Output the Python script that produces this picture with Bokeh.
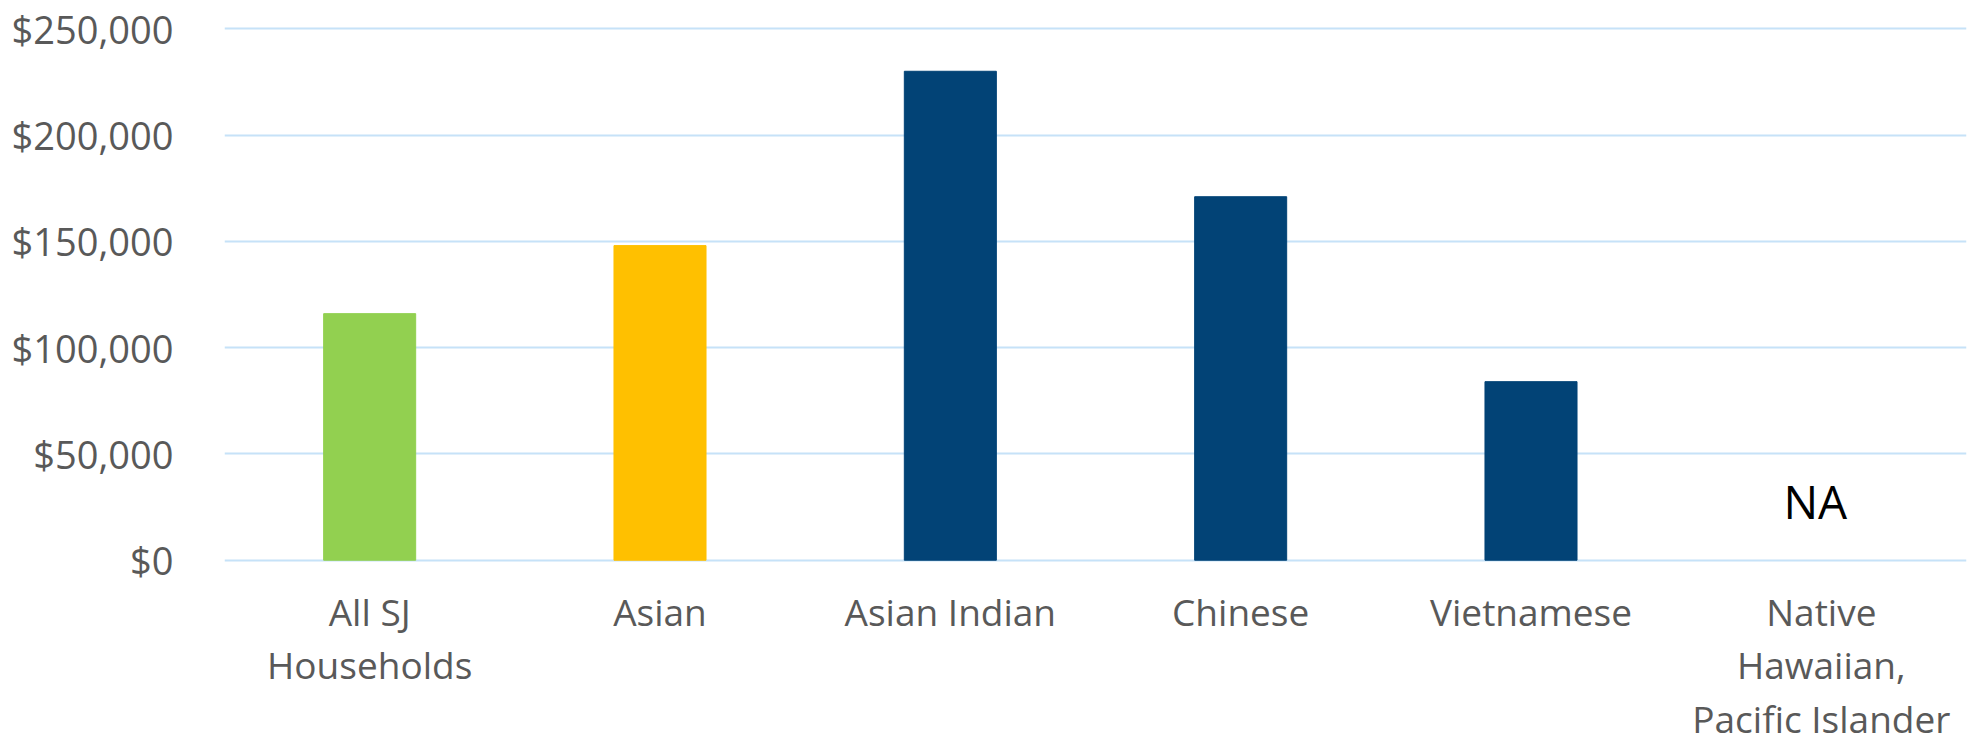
from bokeh.plotting import figure
from bokeh.models import ColumnDataSource, FixedTicker, NumeralTickFormatter, Range1d
from bokeh.core.properties import value
from bokeh.embed import file_html
from bokeh.resources import INLINE

categories = ["All SJ\nHouseholds", "Asian", "Asian Indian", "Chinese", "Vietnamese",
              "Native\nHawaiian,\nPacific Islander"]
incomes = [116000, 148000, 230000, 171000, 84000, None]
colors = ["#92D050", "#FFC000", "#024376", "#024376", "#024376", "#024376"]
y_ticks = [0, 50000, 100000, 150000, 200000, 250000]
na_label = "NA"

bx = [c for c, v in zip(categories, incomes) if v is not None]
bt = [v for v in incomes if v is not None]
bc = [col for col, v in zip(colors, incomes) if v is not None]
src = ColumnDataSource(dict(x=bx, top=bt, color=bc))

p = figure(x_range=categories, y_range=Range1d(-2000, 252000),
           frame_width=1742, frame_height=540,
           min_border_left=224, min_border_right=8, min_border_top=24, min_border_bottom=171,
           output_backend="svg", toolbar_location=None)
p.vbar(x="x", top="top", width=0.317, color="color", source=src)

na_cat = categories[incomes.index(None)]
p.text(x=[na_cat], y=[28000], x_offset=-6, text=[na_label], text_font_size=value("46px"),
       text_font=value("Open Sans"), text_color="#000000", text_align="center",
       text_baseline="alphabetic")

p.outline_line_color = None
p.xgrid.grid_line_color = None
p.ygrid.grid_line_color = "#C6E2F8"
p.ygrid.grid_line_width = 2
p.ygrid.ticker = FixedTicker(ticks=y_ticks)

p.yaxis.ticker = FixedTicker(ticks=y_ticks)
p.yaxis.formatter = NumeralTickFormatter(format="$0,0")
for ax in (p.xaxis[0], p.yaxis[0]):
    ax.axis_line_color = None
    ax.major_tick_line_color = None
    ax.minor_tick_line_color = None
    ax.major_tick_out = 0
    ax.major_tick_in = 0
    ax.major_label_text_font = "Open Sans"
    ax.major_label_text_font_size = "38px"
    ax.major_label_text_color = "#595959"
p.xaxis.major_label_text_font_size = "37px"
p.yaxis.major_label_standoff = 51
p.xaxis.major_label_standoff = 21
p.xaxis.major_label_text_line_height = 1.05
p.x_range.range_padding = 0

open("out.html", "w").write(file_html(p, INLINE))
